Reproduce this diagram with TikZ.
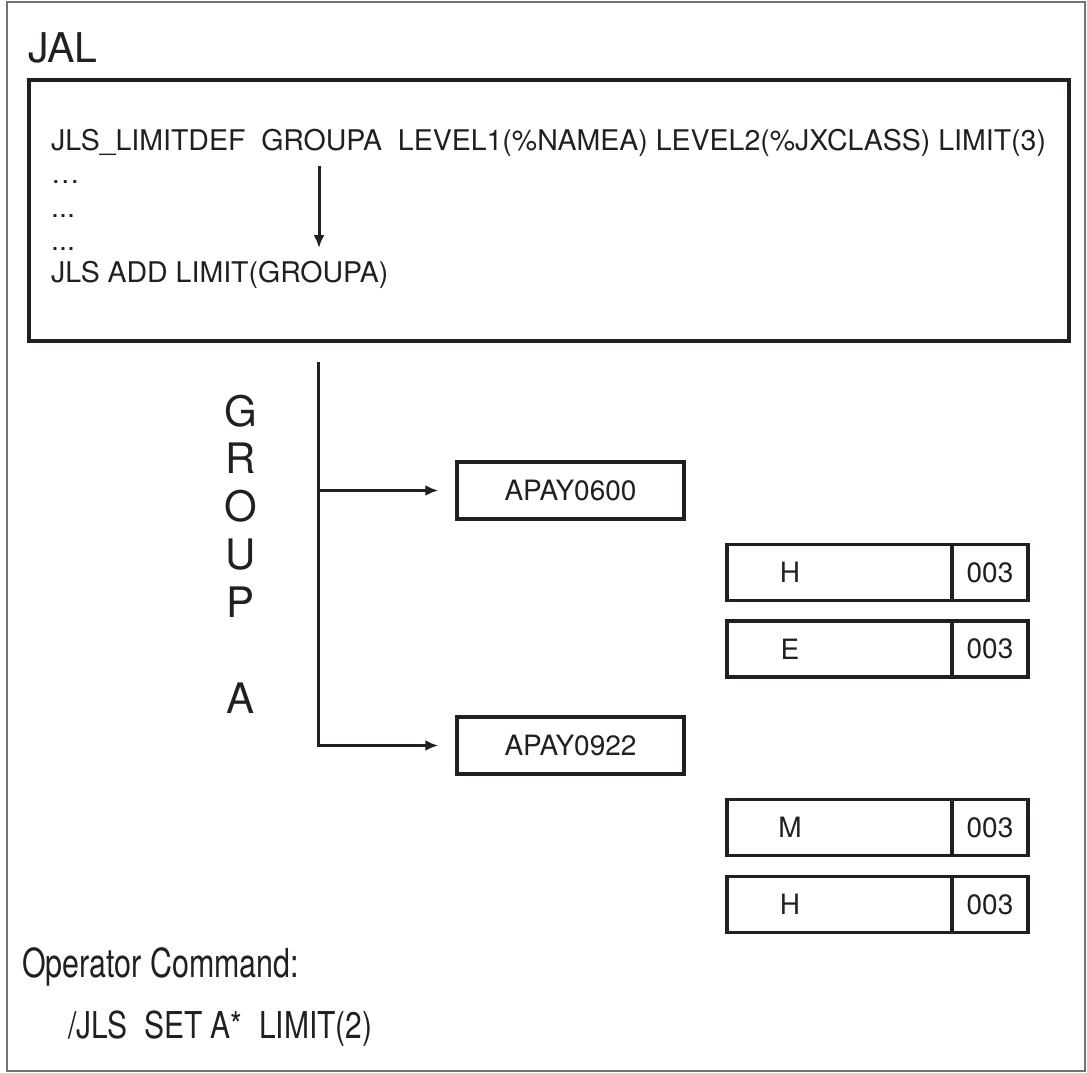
\documentclass[tikz,border=0pt]{standalone}
\usepackage{fontspec}
\usepackage{graphicx}
\setmainfont{TeX Gyre Heros}
\usetikzlibrary{arrows.meta}
\definecolor{ink}{HTML}{231F20}
\begin{document}
\begin{tikzpicture}[x=1pt,y=-1pt,
  every node/.style={text=ink},
  heavybox/.style={draw=ink, line width=3.5pt, minimum width=1040pt, minimum height=261pt, anchor=north west, inner sep=0pt},
  progbox/.style={draw=ink, line width=3.5pt, minimum width=227pt, minimum height=57pt, inner sep=0pt, font=\fontsize{28}{32}\selectfont},
  cellbox/.style={draw=ink, line width=3.5pt, minimum height=56pt, inner sep=0pt, font=\fontsize{28}{32}\selectfont},
  celltxt/.style={inner sep=0pt, font=\fontsize{28}{32}\selectfont},
  codetxt/.style={inner sep=0pt, anchor=base west, font=\fontsize{28.5}{32}\selectfont},
  grpletter/.style={inner sep=0pt, anchor=base, font=\fontsize{42}{48}\selectfont},
  conn/.style={draw=ink, line width=3pt, -{Latex[length=13pt,width=11pt]}},
  trunk/.style={draw=ink, line width=3pt}]
\useasboundingbox (0,0) rectangle (1087,1072);
\draw[draw=black!55, line width=1.6pt] (7,2) rectangle (1085,1071);

% JAL header and box
\node[inner sep=0pt, anchor=base west, font=\fontsize{41}{46}\selectfont] (jal) at (28,62) {JAL};
\node[heavybox] (jalbox) at (27,78) {};
\node[codetxt] (l1) at (51,150) {JLS\_LIMITDEF\ \ GROUPA\ \ LEVEL1(\%NAMEA) LEVEL2(\%JXCLASS) LIMIT(3)};
\node[codetxt] (l2) at (51,183) {…};
\node[codetxt] (l3) at (51,217) {...};
\node[codetxt] (l4) at (51,250) {...};
\node[codetxt] (l5) at (51,282) {JLS ADD LIMIT(GROUPA)};
\coordinate (a1) at (319,166);
\coordinate (a2) at (319,248);
\draw[conn] (a1) -- (a2);

% group letters
\foreach \ch/\yy [count=\i] in {G/426,R/473,O/521,U/569,P/617,A/713}
  \node[grpletter] (g\i) at (241,\yy) {\ch};

% programs
\node[progbox] (p600) at (570.5,490.5) {APAY0600};
\node[progbox] (p922) at (570.5,745.5) {APAY0922};
\coordinate (ttop) at (318,362);
\coordinate (br1) at (318,490.5);
\draw[trunk] (ttop) -- (br1);
\draw[conn, shorten >=17pt] (br1) -- (p600.west);
\draw[conn, shorten >=17pt] (br1) |- (p922.west);

% class cells
\foreach \nm/\lt/\yy in {c1/H/572.5, c2/E/649, c3/M/827.5, c4/H/904.5}{
  \node[cellbox, minimum width=225pt] (\nm l) at (839.5,\yy) {};
  \node[cellbox, minimum width=76pt] (\nm r) at (990,\yy) {003};
  \node[celltxt] (\nm t) at (790,\yy) {\lt};
}

% operator command
\node[inner sep=0pt, anchor=base west, font=\fontsize{40}{44}\selectfont] (op) at (22,977) {\scalebox{0.76}[1]{Operator Command:}};
\node[inner sep=0pt, anchor=base west, font=\fontsize{37}{42}\selectfont] (cmd) at (68,1038) {\scalebox{0.81}[1]{/JLS\ \ SET A*\ \ LIMIT(2)}};
\end{tikzpicture}
\end{document}
